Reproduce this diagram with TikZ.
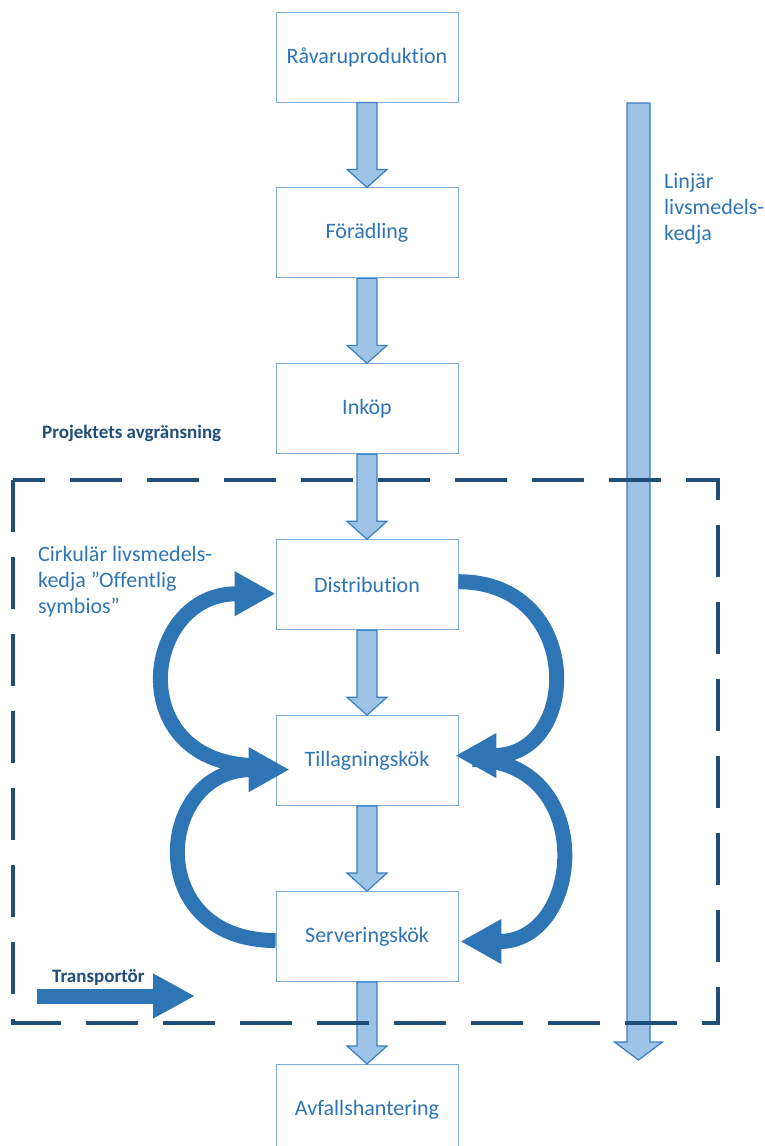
\documentclass[tikz,border=0pt]{standalone}
\usepackage{fontspec}
\setmainfont{Carlito}[Ligatures=NoCommon]
\usetikzlibrary{positioning,calc,arrows.meta}
\definecolor{boxline}{HTML}{7DAADF}
\definecolor{labelblue}{HTML}{2E75B6}
\definecolor{flowfill}{HTML}{9DC3E6}
\definecolor{flowline}{HTML}{3A7DC0}
\definecolor{loopblue}{HTML}{2E75B6}
\definecolor{frameblue}{HTML}{1F4E79}
\tikzset{
  stage/.style={draw=boxline, line width=0.9pt, fill=white, minimum width=182pt, minimum height=90pt, inner sep=0pt, text=labelblue, font=\fontsize{22}{26}\selectfont},
  flowarrow/.style={fill=flowfill, draw=flowline, line width=1.2pt, line join=miter},
  looparrow/.style={draw=loopblue, line width=15pt, -{Triangle[length=41pt,width=42pt]}},
  transport/.style={draw=loopblue, line width=15pt, -{Triangle[length=42pt,width=42pt]}},
  scopeframe/.style={draw=frameblue, line width=3.5pt, dash pattern=on 52pt off 25pt},
  boldlabel/.style={text=frameblue, font=\bfseries\fontsize{19}{23}\selectfont, inner sep=0pt},
  sidelabel/.style={text=labelblue, font=\fontsize{22}{26}\selectfont, align=left, inner sep=0pt}
}
\newcommand{\blockarrow}[4]{%
  \filldraw[flowarrow] let \p1=#1, \p2=#2 in
    (\x1-#3,\y1) -- (\x1+#3,\y1) -- (\x1+#3,\y2+18pt) -- (\x1+#4,\y2+18pt)
    -- (\x1,\y2) -- (\x1-#4,\y2+18pt) -- (\x1-#3,\y2+18pt) -- cycle;}
\begin{document}
\begin{tikzpicture}[x=1pt,y=-1pt]
\useasboundingbox (0,0) rectangle (765,1146);
\node[stage] (ravaru) at (367,57) {Råvaruproduktion};
\node[stage, below=85pt of ravaru] (foradling) {Förädling};
\node[stage, below=85pt of foradling] (inkop) {Inköp};
\node[stage, below=85pt of inkop] (distribution) {Distribution};
\node[stage, below=85pt of distribution] (tillagning) {Tillagningskök};
\node[stage, below=85pt of tillagning] (servering) {Serveringskök};
\node[stage, below=82pt of servering] (avfall) {Avfallshantering};
\foreach \a/\b in {ravaru/foradling, foradling/inkop, inkop/distribution, distribution/tillagning, tillagning/servering, servering/avfall}
  \blockarrow{(\a.south)}{(\b.north)}{10pt}{20pt};
\coordinate (linstart) at (638.5,103);
\coordinate (linend) at (638.5,1060);
\blockarrow{(linstart)}{(linend)}{11.5pt}{24pt};
\draw[looparrow] ([xshift=-18pt,yshift=-5pt]tillagning.west) to[out=180,in=180,looseness=2.0] ([yshift=-9pt]distribution.west);
\draw[looparrow] ([yshift=-4pt]servering.west) to[out=180,in=180,looseness=2.0] ([xshift=14pt,yshift=-9pt]tillagning.west);
\draw[looparrow] ([yshift=3pt]distribution.east) to[out=0,in=0,looseness=1.85] ([xshift=-3pt,yshift=5pt]tillagning.east);
\draw[looparrow] ([xshift=14pt,yshift=1pt]tillagning.east) to[out=0,in=0,looseness=1.75] ([xshift=2pt,yshift=-5pt]servering.east);
\node[boldlabel, anchor=base west] (scopelabel) at (42,438) {Projektets avgränsning};
\node[boldlabel, anchor=base west] (transportlabel) at (52,982) {Transportör};
\node[sidelabel, anchor=north west] (cirklabel) at (38,546) {Cirkulär livsmedels-\\kedja ”Offentlig\\symbios”};
\node[sidelabel, anchor=north west] (linlabel) at (664,173) {Linjär\\livsmedels-\\kedja};
\coordinate (transtart) at (37,996);
\coordinate (tranend) at (195,996);
\draw[transport] (transtart) -- (tranend);
\draw[scopeframe] (13,480) rectangle (718,1023);
\end{tikzpicture}
\end{document}
